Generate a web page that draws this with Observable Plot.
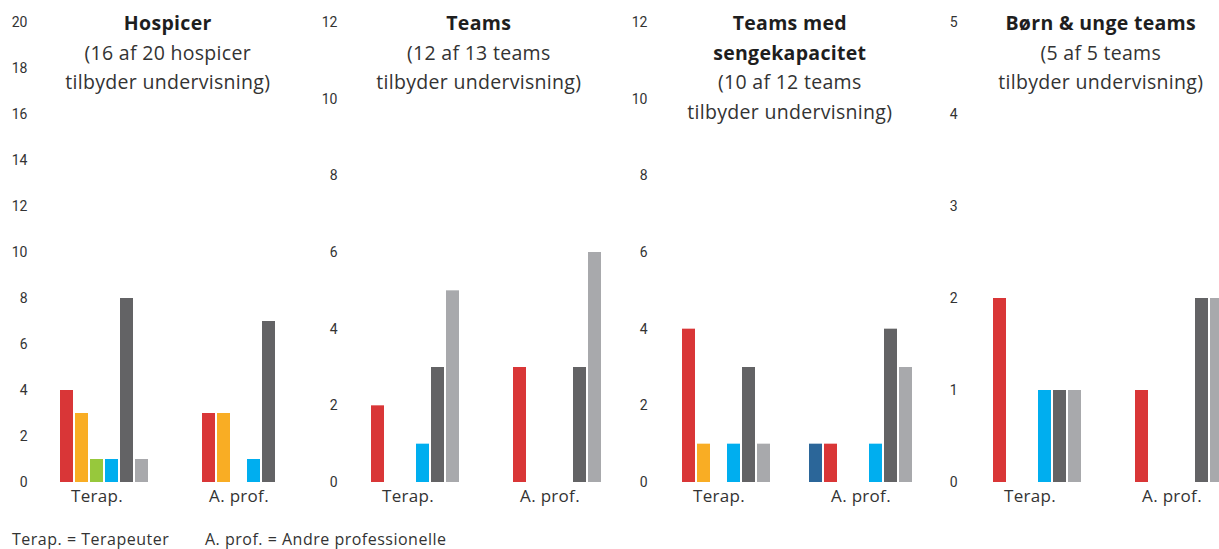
<!DOCTYPE html>
<html>
<head>
<meta charset="utf-8">
<script src="https://cdn.jsdelivr.net/npm/d3@7"></script>
<script src="https://cdn.jsdelivr.net/npm/@observablehq/plot@0.6"></script>
<style>
  html, body { margin: 0; padding: 0; background: #fff; overflow: hidden; }
  #wrap { position: relative; width: 1240px; height: 549px; overflow: hidden; font-family: "Open Sans", sans-serif; }
  .panel { position: absolute; top: 0; width: 310px; height: 515px; }
  .title { position: absolute; top: 8px; text-align: center; font-size: 19.5px; letter-spacing: 0.3px; line-height: 29.5px; color: #333; font-family: "Open Sans", sans-serif; }
  .title b { color: #1e1e1e; font-weight: 700; }
  .panel svg g[aria-label="fx-axis tick label"] text { font-size: 17px; letter-spacing: 0.3px; fill: #333; font-family: "Open Sans", sans-serif; }
  .foot { position: absolute; top: 531px; line-height: 16px; font-size: 16px; letter-spacing: 0.5px; color: #333; white-space: pre; font-family: "Open Sans", sans-serif; }
</style>
</head>
<body>
<div id="wrap"></div>
<script>
// Categories and series
const categories = ["Terap.", "A. prof."];
const series = ["Serie 1", "Serie 2", "Serie 3", "Serie 4", "Serie 5", "Serie 6", "Serie 7"];
const colors = ["#2b6699", "#d93637", "#f9ad24", "#97c83c", "#00aeef", "#636365", "#a8a9ac"];

// Values per panel: [Terap., A. prof.]
const hospicerTerap = [0, 4, 3, 1, 1, 8, 1];
const hospicerAProf = [0, 3, 3, 0, 1, 7, 0];
const teamsTerap = [0, 2, 0, 0, 1, 3, 5];
const teamsAProf = [0, 3, 0, 0, 0, 3, 6];
const sengTerap = [0, 4, 1, 0, 1, 3, 1];
const sengAProf = [1, 1, 0, 0, 1, 4, 3];
const boernTerap = [0, 2, 0, 0, 1, 1, 1];
const boernAProf = [0, 1, 0, 0, 0, 2, 2];

// Y-axis ticks per panel
const hospicerTicks = [0, 2, 4, 6, 8, 10, 12, 14, 16, 18, 20];
const teamsTicks = [0, 2, 4, 6, 8, 10, 12];
const sengTicks = [0, 2, 4, 6, 8, 10, 12];
const boernTicks = [0, 1, 2, 3, 4, 5];

// Titles
const hospicerTitle = [["Hospicer"], ["(16 af 20 hospicer", "tilbyder undervisning)"]];
const teamsTitle = [["Teams"], ["(12 af 13 teams", "tilbyder undervisning)"]];
const sengTitle = [["Teams med", "sengekapacitet"], ["(10 af 12 teams", "tilbyder undervisning)"]];
const boernTitle = [["Børn & unge teams"], ["(5 af 5 teams", "tilbyder undervisning)"]];

const footerTexts = ["Terap. = Terapeuter", "A. prof. = Andre professionelle"];

const panels = [
  {terap: hospicerTerap, aprof: hospicerAProf, ticks: hospicerTicks, title: hospicerTitle},
  {terap: teamsTerap, aprof: teamsAProf, ticks: teamsTicks, title: teamsTitle},
  {terap: sengTerap, aprof: sengAProf, ticks: sengTicks, title: sengTitle},
  {terap: boernTerap, aprof: boernAProf, ticks: boernTicks, title: boernTitle}
];

const wrap = document.getElementById("wrap");

panels.forEach((p, i) => {
  const data = [];
  series.forEach((s, j) => {
    data.push({cat: categories[0], series: s, value: p.terap[j]});
    data.push({cat: categories[1], series: s, value: p.aprof[j]});
  });
  const ml = 44 + i;
  const mr = 18.5 - i;
  const chart = Plot.plot({
    width: 310,
    height: 515,
    marginLeft: ml,
    marginRight: mr,
    marginTop: 22,
    marginBottom: 33,
    style: {fontFamily: "Roboto, sans-serif", fontSize: "14px", color: "#333", background: "transparent", overflow: "visible"},
    fx: {domain: categories, paddingInner: 0.26, paddingOuter: 0, axis: "bottom", label: null, tickSize: 0, tickPadding: 7},
    x: {domain: series, paddingInner: 0.13, paddingOuter: 0.065, axis: null},
    y: {domain: [0, p.ticks[p.ticks.length - 1]], ticks: p.ticks, tickSize: 0, tickPadding: 17 + i, label: null, tickFormat: d => String(d)},
    color: {domain: series, range: colors},
    marks: [
      Plot.barY(data, {fx: "cat", x: "series", y: "value", fill: "series"})
    ]
  });
  const div = document.createElement("div");
  div.className = "panel";
  div.style.left = (i * 310) + "px";
  div.appendChild(chart);
  const t = document.createElement("div");
  t.className = "title";
  t.style.left = (ml - 20) + "px";
  t.style.width = (310 - ml - mr + 40) + "px";
  const bold = p.title[0].map(s => "<b>" + s.replace("&", "&amp;") + "</b>");
  t.innerHTML = bold.concat(p.title[1]).join("<br>");
  div.appendChild(t);
  wrap.appendChild(div);
});

const footLefts = [12, 205];
footerTexts.forEach((txt, k) => {
  const f = document.createElement("div");
  f.className = "foot";
  f.style.left = footLefts[k] + "px";
  f.textContent = txt;
  wrap.appendChild(f);
});
</script>
</body>
</html>
